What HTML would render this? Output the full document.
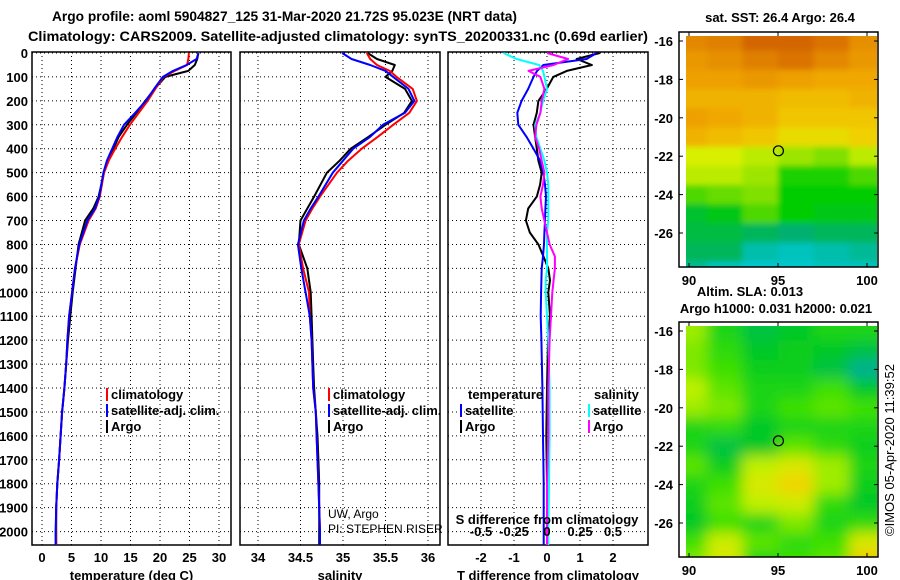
<!DOCTYPE html>
<html><head><meta charset="utf-8"><style>
body{margin:0;background:#fff}
svg{display:block;font-family:"Liberation Sans",Arial,sans-serif;font-weight:bold;font-size:13px}
</style></head><body>
<svg id="s" width="900" height="580" xmlns="http://www.w3.org/2000/svg">
<text x="52" y="21" textLength="465" lengthAdjust="spacingAndGlyphs" font-size="14">Argo profile: aoml 5904827_125 31-Mar-2020 21.72S 95.023E (NRT data)</text>
<text x="28" y="41" textLength="620" lengthAdjust="spacingAndGlyphs" font-size="14">Climatology: CARS2009. Satellite-adjusted climatology: synTS_20200331.nc (0.69d earlier)</text>
<g id="g"></g>
</svg>
<script>
// ---- profile data ----
const depthsTS=[0,25,50,75,100,150,200,250,300,350,400,450,500,600,650,700,800,900,1000,1100,1200,1300,1400,1500,1600,1700,1800,1900,2000,2056];
const tempClim=[24.9,24.8,24.6,22.5,20.6,19.2,17.9,16.4,14.9,13.6,12.4,11.3,10.5,9.8,9.1,7.9,6.4,5.6,5.1,4.6,4.3,4.1,3.8,3.4,3.15,2.9,2.6,2.4,2.35,2.4];
const tempSat=[26.5,26.2,24.5,22.2,20.5,19.0,17.6,15.8,13.9,12.8,11.9,11.0,10.4,9.7,9.0,7.7,6.3,5.6,5.1,4.6,4.3,4.1,3.8,3.4,3.15,2.9,2.6,2.4,2.3,2.3];
const tempArgo=[26.5,26.3,25.9,24.8,20.9,19.1,17.5,16.0,14.4,13.0,12.1,11.1,10.5,9.6,8.7,7.3,6.2,5.7,5.2,4.8,4.4,4.1,3.8,3.4,3.15,2.9,2.6,2.4,2.4,2.4];
const salClim=[35.28,35.32,35.40,35.55,35.63,35.82,35.87,35.78,35.59,35.41,35.22,35.06,34.93,34.73,34.64,34.56,34.48,34.53,34.60,34.61,34.63,34.64,34.65,34.68,34.69,34.70,34.71,34.72,34.73,34.73];
const salSat=[34.99,35.10,35.32,35.50,35.59,35.77,35.84,35.73,35.47,35.32,35.12,35.00,34.88,34.71,34.62,34.54,34.47,34.51,34.56,34.61,34.63,34.64,34.65,34.68,34.69,34.70,34.71,34.72,34.73,34.73];
const salArgo=[35.29,35.40,35.61,35.58,35.50,35.73,35.81,35.72,35.50,35.30,35.09,34.96,34.81,34.66,34.58,34.50,34.48,34.58,34.62,34.63,34.64,34.65,34.66,34.68,34.70,34.71,34.72,34.72,34.72,34.72];
const depthsD=[0,25,50,75,100,150,200,250,300,350,400,450,500,550,600,650,700,750,800,850,900,950,1000,1100,1200,1400,1600,1800,2000,2056];
const dTSat=[1.5,1.2,-0.11,-0.3,-0.41,-0.57,-0.77,-0.9,-0.87,-0.62,-0.41,-0.21,-0.11,-0.06,-0.03,-0.05,-0.06,-0.08,-0.09,-0.12,-0.16,-0.17,-0.18,-0.19,-0.17,-0.14,-0.12,-0.1,-0.1,-0.1];
const dTArgo=[1.6,0.9,1.36,0.6,0.19,-0.01,-0.26,-0.31,-0.41,-0.36,-0.31,-0.26,-0.16,-0.21,-0.31,-0.57,-0.64,-0.52,-0.26,-0.11,0.04,0.09,0.04,0.09,0.03,0.0,-0.02,0.0,0.0,0.0];
const dSSat=[-0.33,-0.23,-0.06,-0.03,-0.02,0.0,-0.03,-0.05,-0.09,-0.08,-0.05,-0.02,0.0,0.01,0.01,0.01,0.01,0.0,0.0,0.0,0.0,-0.01,-0.01,0.0,0.01,0.02,0.02,0.015,0.01,0.01];
const dSArgo=[0.0,0.16,0.05,-0.14,-0.05,-0.02,-0.04,-0.05,-0.08,-0.09,-0.06,-0.04,-0.02,-0.03,-0.05,-0.04,-0.02,0.0,0.02,0.06,0.06,0.05,0.04,0.03,0.02,0.01,0.01,0.0,0.0,0.0];
const depthTicks=[0,100,200,300,400,500,600,700,800,900,1000,1100,1200,1300,1400,1500,1600,1700,1800,1900,2000];
const tempTicks=[0,5,10,15,20,25,30];
const salTicks=[34,34.5,35,35.5,36];
const dTTicks=[-2,-1,0,1,2];
const dSTicks=[-0.5,-0.25,0,0.25,0.5];
// ---- map data (rows lat -16..-28, cols lon 90..100) ----
const mapLats=[-16,-17,-18,-19,-20,-21,-22,-23,-24,-25,-26,-27,-28];
const mapLons=[90,92,94,96,98,100];
const sstGrid=[
[26.4,26.5,26.7,26.7,26.6,26.3],[26.2,26.3,26.5,26.6,26.4,26.2],[26.1,26.1,26.2,26.1,26.0,26.0],
[25.9,25.9,25.9,25.8,25.8,25.9],[26.1,26.0,25.9,25.7,25.7,25.7],[25.9,25.8,25.7,25.5,25.5,25.6],
[25.3,25.3,25.2,25.1,25.0,25.2],[25.2,25.2,25.1,24.6,24.6,24.8],[24.8,24.9,25.0,24.5,24.5,24.5],
[24.3,24.4,24.8,24.5,24.4,24.4],[24.2,24.2,24.1,24.0,24.1,24.1],[24.1,24.1,23.7,23.6,23.7,23.8],
[23.8,23.6,23.5,23.5,23.6,23.6]];
const slaGrid=[
[0.05,0.0,-0.03,-0.02,0.0,0.0],[0.04,0.01,-0.02,-0.01,-0.02,-0.03],[0.04,0.02,-0.01,-0.01,-0.03,-0.06],
[0.06,0.03,0.0,0.0,0.02,-0.02],[0.05,0.04,0.0,0.02,0.03,0.02],[0.0,0.01,-0.02,0.0,0.0,0.0],
[0.0,-0.03,-0.02,0.03,0.01,-0.01],[0.03,-0.01,0.06,0.08,0.05,0.0],[0.0,0.02,0.08,0.11,0.05,-0.01],
[-0.01,0.03,0.06,0.07,0.01,-0.02],[-0.02,0.02,0.0,0.04,0.0,0.01],[0.02,0.07,0.03,0.01,0.02,0.08],
[0.04,0.08,0.0,0.02,0.03,0.12]];
const argoLon=95.023, argoLat=-21.72;

const NS='http://www.w3.org/2000/svg', G=document.getElementById('g');
function el(t,a,p){const e=document.createElementNS(NS,t);for(const k in a)e.setAttribute(k,a[k]);(p||G).appendChild(e);return e;}
function txt(x,y,s,a){const e=el('text',Object.assign({x:x,y:y},a||{}));e.textContent=s;return e;}
const Y0=53,YK=0.2393,PT=52,PB=545;
const yD=d=>Y0+d*YK;
const panels=[
 {x0:32,x1:231,sx:v=>42+v*5.9,ticks:tempTicks,lab:'temperature (deg C)',name:'temperature'},
 {x0:240,x1:440,sx:v=>258+(v-34)*85,ticks:salTicks,lab:'salinity',name:'salinity'},
 {x0:448,x1:648,sx:v=>547+v*33,ticks:dTTicks,lab:'T difference from climatology',name:'t-difference'}];
const sxS=v=>547+v*132;
const defs=el('defs',{});
panels.forEach((p,i)=>{
 const g=el('g',{});
 
 
 depthTicks.forEach(d=>{const l=el('line',{x1:p.x0,x2:p.x1,y1:yD(d),y2:yD(d),stroke:'#000','stroke-dasharray':'1,3','stroke-width':1},g);});
 p.ticks.forEach(v=>{const x=p.sx(v);const l=el('line',{x1:x,x2:x,y1:PT,y2:PB,stroke:'#000','stroke-dasharray':'1,3'},g);
  const t=txt(x,562,String(v),{'text-anchor':'middle'});});
 const r=el('rect',{x:p.x0,y:PT,width:p.x1-p.x0,height:PB-PT,fill:'none',stroke:'#000','stroke-width':1.5},g);
 
 const t=txt((p.x0+p.x1)/2,580,p.lab,{'text-anchor':'middle'});
 
});
depthTicks.forEach(d=>{const t=txt(28,yD(d)+5,String(d),{'text-anchor':'end'});});
function line(ds,vs,sx,col,name){
 const pts=ds.map((d,i)=>sx(vs[i]).toFixed(1)+','+yD(Math.min(d,2056)).toFixed(1)).join(' ');
 const l=el('polyline',{points:pts,fill:'none',stroke:col,'stroke-width':2,'stroke-linejoin':'round'});
 
}
line(depthsTS,tempArgo,panels[0].sx,'#000','temp-argo-line');
line(depthsTS,tempClim,panels[0].sx,'#f00','temp-climatology-line');
line(depthsTS,tempSat,panels[0].sx,'#00f','temp-satellite-line');
line(depthsTS,salArgo,panels[1].sx,'#000','sal-argo-line');
line(depthsTS,salClim,panels[1].sx,'#f00','sal-climatology-line');
line(depthsTS,salSat,panels[1].sx,'#00f','sal-satellite-line');
line(depthsD,dTArgo,panels[2].sx,'#000','dt-argo-line');
line(depthsD,dTSat,panels[2].sx,'#00f','dt-satellite-line');
line(depthsD,dSSat,sxS,'#0ff','ds-satellite-line');
line(depthsD,dSArgo,sxS,'#f0f','ds-argo-line');
dSTicks.forEach(v=>{const t=txt(sxS(v),536,String(v),{'text-anchor':'middle'});});
{const t=txt(547,524,'S difference from climatology',{'text-anchor':'middle'});}
function leg(x,y,col,s,name){
 const b=el('rect',{x:x,y:y-11,width:2,height:13,fill:col});
 const t=txt(x+5,y,s);}
[[106,'climatology','#f00'],[106,'satellite-adj. clim.','#00f'],[106,'Argo','#000']].forEach((e,i)=>leg(e[0],399+i*16,e[2],e[1],'legend-temp-'+i));
[[328,'climatology','#f00'],[328,'satellite-adj. clim.','#00f'],[328,'Argo','#000']].forEach((e,i)=>leg(e[0],399+i*16,e[2],e[1],'legend-sal-'+i));
{const t=txt(468,399,'temperature');}
{const t=txt(594,399,'salinity');}
leg(460,415,'#00f','satellite','legend-dt-satellite');
leg(460,431,'#000','Argo','legend-dt-argo');
leg(588,415,'#0ff','satellite','legend-ds-satellite');
leg(588,431,'#f0f','Argo','legend-ds-argo');
{const t=txt(328,518,'UW, Argo',{'font-weight':'normal','font-size':12});}
{const t=txt(328,533,'PI: STEPHEN RISER',{'font-weight':'normal','font-size':12});}
// ---- maps ----
const rgb=c=>'rgb('+c.map(Math.round).join(',')+')';
function ramp(stops,v){if(v<=stops[0][0])return rgb(stops[0][1]);for(let i=1;i<stops.length;i++){if(v<=stops[i][0]){const a=stops[i-1],b=stops[i],f=(v-a[0])/(b[0]-a[0]);return rgb([0,1,2].map(k=>a[1][k]+(b[1][k]-a[1][k])*f));}}return rgb(stops[stops.length-1][1]);}
const sstStops=[[23.5,[0,200,210]],[24.0,[0,176,112]],[24.5,[0,205,0]],[25.0,[128,224,0]],[25.3,[216,240,0]],[25.6,[240,208,0]],[26.0,[240,168,0]],[26.5,[224,128,0]],[27.0,[192,64,0]]];
const slaStops=[[-0.06,[0,176,144]],[-0.02,[0,200,40]],[0.02,[60,224,0]],[0.06,[192,240,0]],[0.10,[240,224,0]],[0.13,[240,192,0]]];
const fb=el('filter',{id:'bl',x:'-10%',y:'-10%',width:'120%',height:'120%'},defs);el('feGaussianBlur',{stdDeviation:7},fb);
const fs=el('filter',{id:'bs',x:'-10%',y:'-10%',width:'120%',height:'120%'},defs);el('feGaussianBlur',{stdDeviation:3},fs);
function map(top,grid,stops,name,filt){
 const lx=v=>689+(v-90)*17.8, ly=v=>top+9+(-16-v)*19.2;
 const bot=top+235;
 const g=el('g',{});
 const cid='clip'+name;const c=el('clipPath',{id:cid},defs);el('rect',{x:686,y:top+4,width:191,height:231},c);
 const cells=el('g',{'clip-path':'url(#'+cid+')'},g);
 const inner=el('g',{filter:'url(#'+filt+')'},cells);
 mapLats.forEach((la,i)=>mapLons.forEach((lo,j)=>{
  const r=el('rect',{x:lx(lo-1)-(j==0?20:0),y:ly(la+0.5)-(i==0?20:0),width:17.8*2+1+(j==0||j==5?20:0),height:19.2+1+(i==0||i==12?20:0),fill:ramp(stops,grid[i][j])},inner);
  }));
 const f=el('rect',{x:679,y:top,width:199,height:235,fill:'none',stroke:'#000','stroke-width':1.5},g);
 
 [-16,-18,-20,-22,-24,-26].forEach(v=>{const t=txt(673,ly(v)+5,String(v),{'text-anchor':'end'});
  el('line',{x1:878,x2:874,y1:ly(v),y2:ly(v),stroke:'#000'},g);el('line',{x1:679,x2:683,y1:ly(v),y2:ly(v),stroke:'#000'},g);});
 [90,95,100].forEach(v=>{const t=txt(lx(v),bot+18,String(v),{'text-anchor':'middle'});
  el('line',{x1:lx(v),x2:lx(v),y1:top,y2:top+4,stroke:'#000'},g);el('line',{x1:lx(v),x2:lx(v),y1:bot,y2:bot-4,stroke:'#000'},g);});
 const m=el('circle',{cx:lx(argoLon),cy:ly(argoLat),r:5,fill:'none',stroke:'#000','stroke-width':1.2},g);
 
}
map(32,sstGrid,sstStops,'sst-map','bs');
map(322,slaGrid,slaStops,'sla-map','bl');
{const t=txt(780,22,'sat. SST: 26.4 Argo: 26.4',{'text-anchor':'middle'});}
{const t=txt(750,296,'Altim. SLA: 0.013',{'text-anchor':'middle'});}
{const t=txt(776,313,'Argo h1000: 0.031 h2000: 0.021',{'text-anchor':'middle'});}
{const t=txt(0,0,'©IMOS 05-Apr-2020 11:39:52',{'text-anchor':'middle','font-weight':'normal','font-size':13,transform:'translate(894,450) rotate(-90)'});}
</script>
</body></html>
